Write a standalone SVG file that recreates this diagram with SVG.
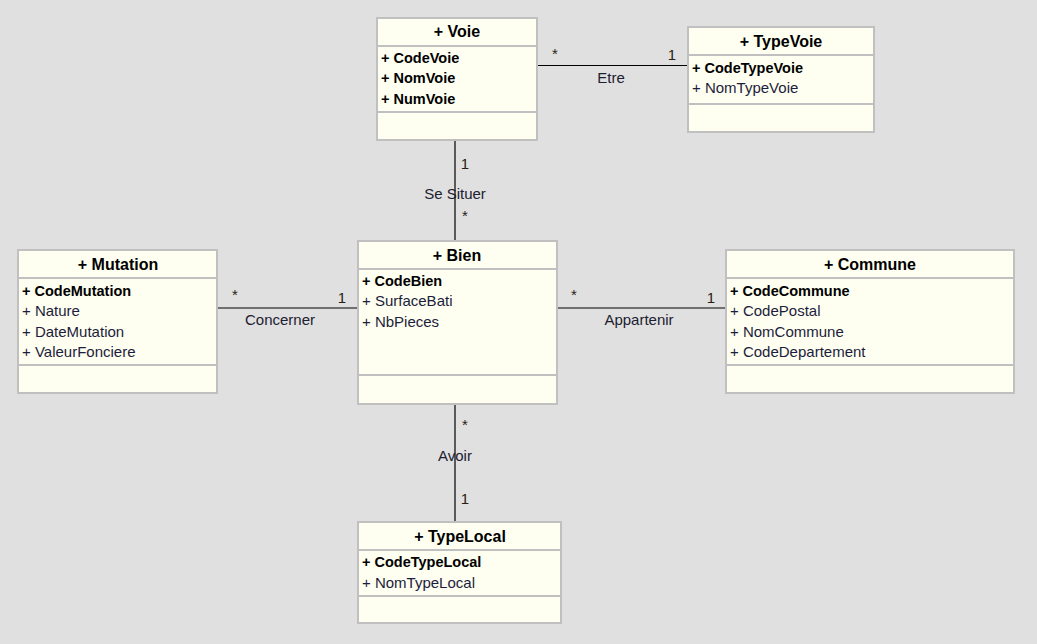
<svg xmlns="http://www.w3.org/2000/svg" width="1037" height="644" viewBox="0 0 1037 644">
<style>
.box{fill:#fefff0;stroke:#c0c0c0;stroke-width:2}
.sep{stroke:#c0c0c0;stroke-width:2}
.t{font-family:"Liberation Sans",Arial,sans-serif;font-size:16px;font-weight:bold;fill:#000;text-anchor:middle}
.k{font-family:"Liberation Sans",Arial,sans-serif;font-size:14.5px;font-weight:bold;fill:#000}
.a{font-family:"Liberation Sans",Arial,sans-serif;font-size:15px;fill:#1c1c3c}
.c{stroke:#000;stroke-width:1.2;fill:none}
.m{font-family:"Liberation Sans",Arial,sans-serif;font-size:15px;fill:#2a2010;text-anchor:middle}
.l{font-family:"Liberation Sans",Arial,sans-serif;font-size:15px;fill:#1c2030;text-anchor:middle}
</style>
<rect width="1037" height="644" fill="#e0e0e0"/>
<g id="connectors">
<line class="c" x1="538" y1="65.5" x2="687" y2="65.5"/>
<text class="m" x="555" y="59">*</text>
<text class="m" x="672" y="60">1</text>
<text class="l" x="611" y="83">Etre</text>
<line class="c" x1="455" y1="141" x2="455" y2="240"/>
<text class="m" x="465" y="169">1</text>
<text class="l" x="455" y="199">Se Situer</text>
<text class="m" x="465" y="221">*</text>
<line class="c" x1="218" y1="308" x2="357" y2="308"/>
<text class="m" x="235" y="300">*</text>
<text class="m" x="342" y="303">1</text>
<text class="l" x="280" y="325">Concerner</text>
<line class="c" x1="558" y1="308" x2="725" y2="308"/>
<text class="m" x="574" y="300">*</text>
<text class="m" x="711" y="303">1</text>
<text class="l" x="639" y="325">Appartenir</text>
<line class="c" x1="455" y1="405" x2="455" y2="521"/>
<text class="m" x="465" y="430">*</text>
<text class="l" x="455" y="461">Avoir</text>
<text class="m" x="465" y="504">1</text>
</g>
<g id="Voie">
<rect class="box" x="377" y="18" width="160" height="122"/>
<line class="sep" x1="377" y1="46" x2="537" y2="46"/>
<line class="sep" x1="377" y1="112" x2="537" y2="112"/>
<text class="t" x="457" y="37">+ Voie</text>
<text class="k" x="381" y="63">+ CodeVoie</text>
<text class="k" x="381" y="83">+ NomVoie</text>
<text class="k" x="381" y="104">+ NumVoie</text>
</g>
<g id="TypeVoie">
<rect class="box" x="688" y="27" width="186" height="105"/>
<line class="sep" x1="688" y1="55" x2="874" y2="55"/>
<line class="sep" x1="688" y1="104" x2="874" y2="104"/>
<text class="t" x="781" y="47">+ TypeVoie</text>
<text class="k" x="692" y="73">+ CodeTypeVoie</text>
<text class="a" x="692" y="93">+ NomTypeVoie</text>
</g>
<g id="Mutation">
<rect class="box" x="18" y="250" width="199" height="143"/>
<line class="sep" x1="18" y1="278" x2="217" y2="278"/>
<line class="sep" x1="18" y1="365" x2="217" y2="365"/>
<text class="t" x="118" y="270">+ Mutation</text>
<text class="k" x="22" y="296">+ CodeMutation</text>
<text class="a" x="22" y="316">+ Nature</text>
<text class="a" x="22" y="337">+ DateMutation</text>
<text class="a" x="22" y="357">+ ValeurFonciere</text>
</g>
<g id="Bien">
<rect class="box" x="358" y="241" width="199" height="163"/>
<line class="sep" x1="358" y1="269" x2="557" y2="269"/>
<line class="sep" x1="358" y1="375" x2="557" y2="375"/>
<text class="t" x="457" y="261">+ Bien</text>
<text class="k" x="362" y="286">+ CodeBien</text>
<text class="a" x="362" y="306">+ SurfaceBati</text>
<text class="a" x="362" y="327">+ NbPieces</text>
</g>
<g id="Commune">
<rect class="box" x="726" y="250" width="288" height="143"/>
<line class="sep" x1="726" y1="278" x2="1014" y2="278"/>
<line class="sep" x1="726" y1="365" x2="1014" y2="365"/>
<text class="t" x="870" y="270">+ Commune</text>
<text class="k" x="730" y="296">+ CodeCommune</text>
<text class="a" x="730" y="316">+ CodePostal</text>
<text class="a" x="730" y="337">+ NomCommune</text>
<text class="a" x="730" y="357">+ CodeDepartement</text>
</g>
<g id="TypeLocal">
<rect class="box" x="358" y="522" width="203" height="101"/>
<line class="sep" x1="358" y1="550" x2="561" y2="550"/>
<line class="sep" x1="358" y1="596" x2="561" y2="596"/>
<text class="t" x="460" y="542">+ TypeLocal</text>
<text class="k" x="362" y="567">+ CodeTypeLocal</text>
<text class="a" x="362" y="588">+ NomTypeLocal</text>
</g>
</svg>
